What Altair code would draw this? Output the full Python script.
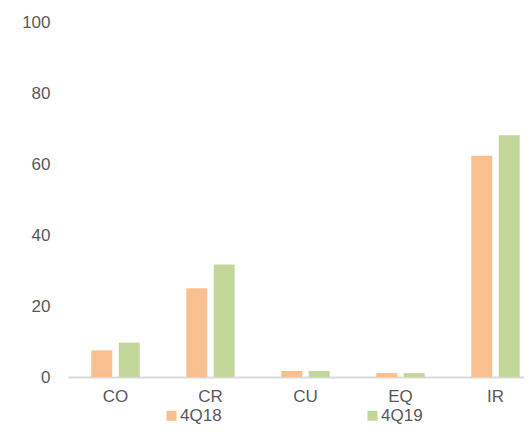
import altair as alt
import pandas as pd

categories = ["CO", "CR", "CU", "EQ", "IR"]
series = ["4Q18", "4Q19"]
values_4q18 = [7.5, 25.0, 1.7, 1.1, 62.3]
values_4q19 = [9.7, 31.7, 1.7, 1.1, 68.1]
y_ticks = [0, 20, 40, 60, 80, 100]
colors = ["#F9BF8F", "#C4D79B"]

rows = []
for c, a, b in zip(categories, values_4q18, values_4q19):
    rows.append({"cat": c, "series": series[0], "value": a})
    rows.append({"cat": c, "series": series[1], "value": b})
df = pd.DataFrame(rows)

FONT = "Liberation Sans"
FS = 17

chart = (
    alt.Chart(df)
    .mark_bar()
    .encode(
        x=alt.X(
            "cat:N",
            sort=categories,
            title=None,
            scale=alt.Scale(range=[0, 475], paddingInner=0.49, paddingOuter=0.245),
            axis=alt.Axis(
                labelAngle=0,
                ticks=False,
                domainColor="#d9d9d9",
                domainWidth=2,
                labelColor="#595959",
                labelFont=FONT,
                labelFontSize=FS,
                labelPadding=11,
                grid=False,
            ),
        ),
        xOffset=alt.XOffset(
            "series:N",
            sort=series,
            scale=alt.Scale(paddingInner=0.235, paddingOuter=0),
        ),
        y=alt.Y(
            "value:Q",
            title=None,
            scale=alt.Scale(domain=[0, 100], nice=False),
            axis=alt.Axis(
                values=y_ticks,
                domain=False,
                ticks=False,
                grid=False,
                labelColor="#595959",
                labelFont=FONT,
                labelFontSize=FS,
                labelPadding=18,
            ),
        ),
        color=alt.Color(
            "series:N",
            sort=series,
            scale=alt.Scale(domain=series, range=colors),
            legend=alt.Legend(
                title=None,
                orient="none",
                legendX=95,
                legendY=385,
                padding=0,
                direction="horizontal",
                columns=2,
                columnPadding=142,
                symbolType="square",
                symbolSize=100,
                symbolStrokeWidth=0,
                labelColor="#595959",
                labelFont=FONT,
                labelFontSize=FS,
                labelOffset=0,
            ),
        ),
    )
    .properties(
        width=456,
        height=355,
        autosize=alt.AutoSizeParams(type="none"),
        padding={"left": 60, "top": 14, "right": 0, "bottom": 50},
    )
    .configure(background="white")
    .configure_view(strokeOpacity=0, strokeWidth=0)
)

chart.save("out.html", embed_options={"renderer": "svg", "actions": False})
